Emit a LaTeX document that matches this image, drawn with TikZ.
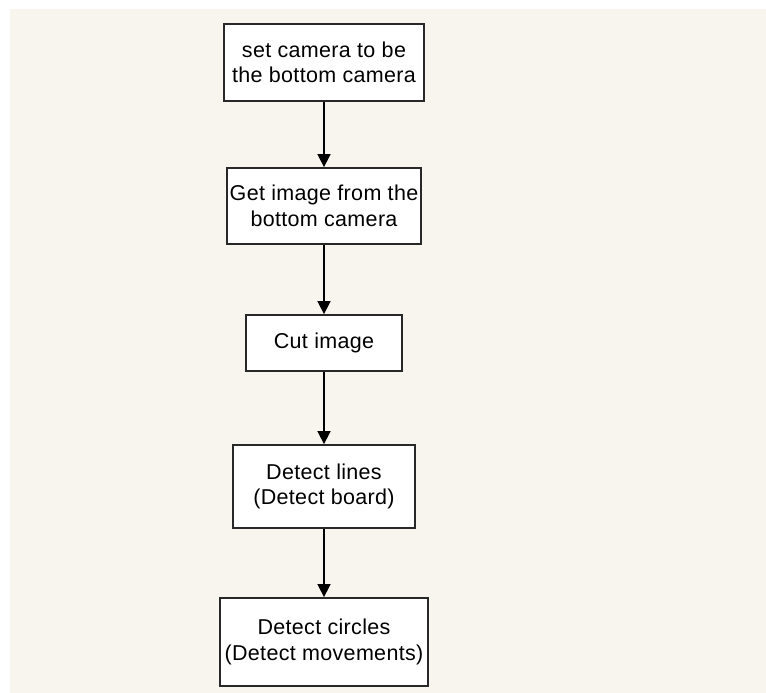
\documentclass[tikz,border=0pt]{standalone}
\usepackage{fontspec}
\setmainfont{Liberation Sans}[LetterSpace=1.5]
\usetikzlibrary{arrows.meta}
\definecolor{canvas}{RGB}{248,245,238}
\definecolor{edge}{RGB}{40,40,40}
\tikzset{
  stepbox/.style={draw=edge, line width=1.8pt, fill=white, align=center,
    inner sep=0pt, font=\fontsize{21.5pt}{25.5pt}\selectfont},
  flow/.style={draw=black, line width=1.6pt, -{Triangle[length=13pt,width=13pt]}}
}
\begin{document}
\begin{tikzpicture}[x=1pt,y=-1pt]
  \useasboundingbox (0,0) rectangle (766,693);
  \fill[white] (0,0) rectangle (766,693);
  \fill[canvas] (10,9) rectangle (766,693);

  \node[stepbox, minimum width=200pt, minimum height=77pt] (s1) at (324,62.5)
    {set camera to be\\the bottom camera};
  \node[stepbox, minimum width=194pt, minimum height=76pt] (s2) at (324,206)
    {Get image from the\\bottom camera};
  \node[stepbox, minimum width=156pt, minimum height=56pt] (s3) at (324,343)
    {Cut image};
  \node[stepbox, minimum width=182pt, minimum height=83pt] (s4) at (324,486.5)
    {Detect lines\\(Detect board)};
  \node[stepbox, minimum width=208pt, minimum height=88pt] (s5) at (324,642)
    {Detect circles\\(Detect movements)};

  \draw[flow] (s1.south) -- (s2.north);
  \draw[flow] (s2.south) -- (s3.north);
  \draw[flow] (s3.south) -- (s4.north);
  \draw[flow] (s4.south) -- (s5.north);
\end{tikzpicture}
\end{document}
